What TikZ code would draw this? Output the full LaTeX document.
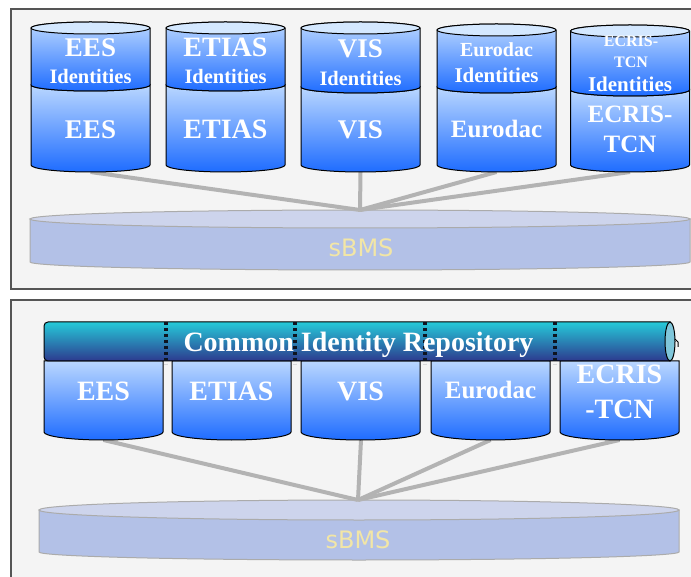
\documentclass[tikz,border=0pt]{standalone}
\usepackage{fontspec}
\setmainfont{Liberation Serif}
\newfontfamily\sbmsfont{DejaVu Sans}
\definecolor{frameBg}{HTML}{F4F4F4}
\definecolor{frameLn}{HTML}{555555}
\definecolor{cylTop}{HTML}{BAD7FF}
\definecolor{cylBot}{HTML}{1E6CFF}
\definecolor{capFill}{HTML}{D4E8FF}
\definecolor{sbTop}{HTML}{CDD4EC}
\definecolor{sbBody}{HTML}{B3C1E7}
\definecolor{sbLine}{HTML}{ABABAB}
\definecolor{sbText}{HTML}{F2E6A6}
\definecolor{conn}{HTML}{B3B3B3}
\definecolor{cirTop}{HTML}{26CAD9}
\definecolor{cirBot}{HTML}{2D3A8E}
\definecolor{cirCap}{HTML}{7FC6DA}
\definecolor{dotCol}{HTML}{0E1420}
\tikzset{
  cylpart/.style={draw=black, line width=1pt, top color=cylTop, bottom color=cylBot},
  frame/.style={draw=frameLn, fill=frameBg, line width=1.3pt},
  connline/.style={draw=conn, line width=4pt},
  lbl/.style={text=white, inner sep=0pt, anchor=base, align=center},
  dotline/.style={draw=dotCol, line width=3.2pt, dash pattern=on 3pt off 3pt},
  sbmslbl/.style={text=sbText, inner sep=0pt, anchor=base, font=\sbmsfont\fontsize{24}{28}\selectfont}
}
\newcommand\fs[1]{\fontsize{#1}{#1}\selectfont\bfseries}
% two-section cylinder: #1 cx, #2 top centre y, #3 mid y, #4 bottom y, #5 name
\newcommand\twocyl[5]{%
  \path[cylpart] ({#1-59.5},-#3) -- ({#1-59.5},-#4)
     arc[start angle=180,end angle=360,x radius=59.5pt,y radius=7pt]
     -- ({#1+59.5},-#3)
     arc[start angle=0,end angle=-180,x radius=59.5pt,y radius=6pt] -- cycle;
  \path[cylpart] ({#1-59.5},-#2) -- ({#1-59.5},-#3)
     arc[start angle=180,end angle=360,x radius=59.5pt,y radius=6pt]
     -- ({#1+59.5},-#2)
     arc[start angle=0,end angle=180,x radius=59.5pt,y radius=6pt] -- cycle;
  \draw[line width=1pt, fill=capFill] (#1,-#2) ellipse[x radius=59.5pt, y radius=6pt];
}
% single-section cylinder: #1 cx, #2 top y, #3 bottom y
\newcommand\onecyl[3]{%
  \path[cylpart] ({#1-59.5},-#2) -- ({#1-59.5},-#3)
     arc[start angle=180,end angle=360,x radius=59.5pt,y radius=8pt]
     -- ({#1+59.5},-#2) -- cycle;
}
% flat disc: #1 cx, #2 rx, #3 top centre y, #4 top ry, #5 bottom y
\newcommand\disc[5]{%
  \path[draw=sbLine, fill=sbBody, line width=1pt] ({#1-#2},-#3) -- ({#1-#2},-#5)
     arc[start angle=180,end angle=360,x radius=#2pt,y radius=8pt]
     -- ({#1+#2},-#3) -- cycle;
  \path[draw=sbLine, fill=sbTop, line width=1pt] (#1,-#3) ellipse[x radius=#2pt,y radius=#4pt];
}
\begin{document}
\begin{tikzpicture}[x=1pt,y=1pt]
\useasboundingbox (0,0) rectangle (691,-577);
\fill[white] (0,0) rectangle (691,-577);
% frames
\path[frame] (11,-9) rectangle (720,-289);
\path[frame] (11,-300) rectangle (720,-620);

% ---------- top panel ----------
\disc{360}{330}{219}{9}{262}
\node[sbmslbl] (sbmsA) at (361,-257) {sBMS};
\coordinate (hubA) at (360,-210);
\coordinate (eesA) at (90.5,-172);
\coordinate (visA) at (360.5,-172);
\coordinate (eurA) at (496.5,-172);
\coordinate (ecrA) at (630,-172);
\draw[connline] (eesA) -- (hubA);
\draw[connline] (visA) -- (hubA);
\draw[connline] (eurA) -- (hubA);
\draw[connline] (ecrA) -- (hubA);

\twocyl{90.5}{28}{85}{165}{cEES}
\twocyl{225.5}{28}{85}{165}{cETIAS}
\twocyl{360.5}{28}{87}{165}{cVIS}
\twocyl{496.5}{30}{87}{165}{cEur}
\twocyl{630}{31}{90}{165}{cEcr}

\node[lbl, font=\fs{27}] (t1) at (90.5,-57) {EES};
\node[lbl, font=\fs{20.5}] (t2) at (90.5,-84) {Identities};
\node[lbl, font=\fs{27}] (t3) at (90.5,-139) {EES};
\node[lbl, font=\fs{28}] (t4) at (225.5,-57) {ETIAS};
\node[lbl, font=\fs{20.5}] (t5) at (225.5,-84) {Identities};
\node[lbl, font=\fs{28}] (t6) at (225.5,-139) {ETIAS};
\node[lbl, font=\fs{27}] (t7) at (360.5,-58) {VIS};
\node[lbl, font=\fs{20.5}] (t8) at (360.5,-86) {Identities};
\node[lbl, font=\fs{27}] (t9) at (360.5,-139) {VIS};
\node[lbl, font=\fs{20}] (t10) at (496.5,-57) {Eurodac};
\node[lbl, font=\fs{21}] (t11) at (496.5,-83) {Identities};
\node[lbl, font=\fs{25}] (t12) at (496.5,-138) {Eurodac};
\node[lbl, font=\fs{16}] (t13) at (631,-47) {ECRIS-};
\node[lbl, font=\fs{16}] (t14) at (631,-68) {TCN};
\node[lbl, font=\fs{21}] (t15) at (630,-92) {Identities};
\node[lbl, font=\fs{25}] (t16) at (630,-123) {ECRIS-};
\node[lbl, font=\fs{25}] (t17) at (630,-153) {TCN};

% ---------- bottom panel ----------
\disc{359}{320}{510}{10}{552}
\node[sbmslbl] (sbmsB) at (358,-548) {sBMS};
\coordinate (hubB) at (358,-500);
\coordinate (eesB) at (103.5,-440);
\coordinate (visB) at (361,-440);
\coordinate (eurB) at (490.5,-440);
\coordinate (ecrB) at (619.5,-440);
\draw[connline] (eesB) -- (hubB);
\draw[connline] (visB) -- (hubB);
\draw[connline] (eurB) -- (hubB);
\draw[connline] (ecrB) -- (hubB);

\onecyl{103.5}{361}{432}
\onecyl{231.5}{361}{432}
\onecyl{360.5}{361}{432}
\onecyl{490.5}{361}{432}
\onecyl{619.5}{361}{432}

% common identity repository bar
\path[draw=black, line width=1pt, top color=cirTop, bottom color=cirBot]
  (670,-322) [rounded corners=4pt] -- (44,-322) -- (44,-361) [sharp corners] -- (670,-361) -- cycle;
\draw[line width=1pt, fill=cirCap] (670,-341.5) ellipse[x radius=5pt, y radius=19.5pt];
\draw[line width=1pt] (675,-339) -- (678,-342) -- (678,-347);
\draw[dotline] (166,-322) -- (166,-364);
\draw[dotline] (295,-322) -- (295,-364);
\draw[dotline] (425,-322) -- (425,-364);
\draw[dotline] (555,-322) -- (555,-364);
\node[lbl, font=\fs{28}] (cir) at (358.5,-352) {Common Identity Repository};

\node[lbl, font=\fs{28}] (b1) at (103.5,-400) {EES};
\node[lbl, font=\fs{28}] (b2) at (231.5,-400) {ETIAS};
\node[lbl, font=\fs{28}] (b3) at (360.5,-400) {VIS};
\node[lbl, font=\fs{25}] (b4) at (490.5,-398) {Eurodac};
\node[lbl, font=\fs{28}] (b5) at (619.5,-384) {ECRIS};
\node[lbl, font=\fs{28}] (b6) at (619.5,-418) {-TCN};
\end{tikzpicture}
\end{document}
